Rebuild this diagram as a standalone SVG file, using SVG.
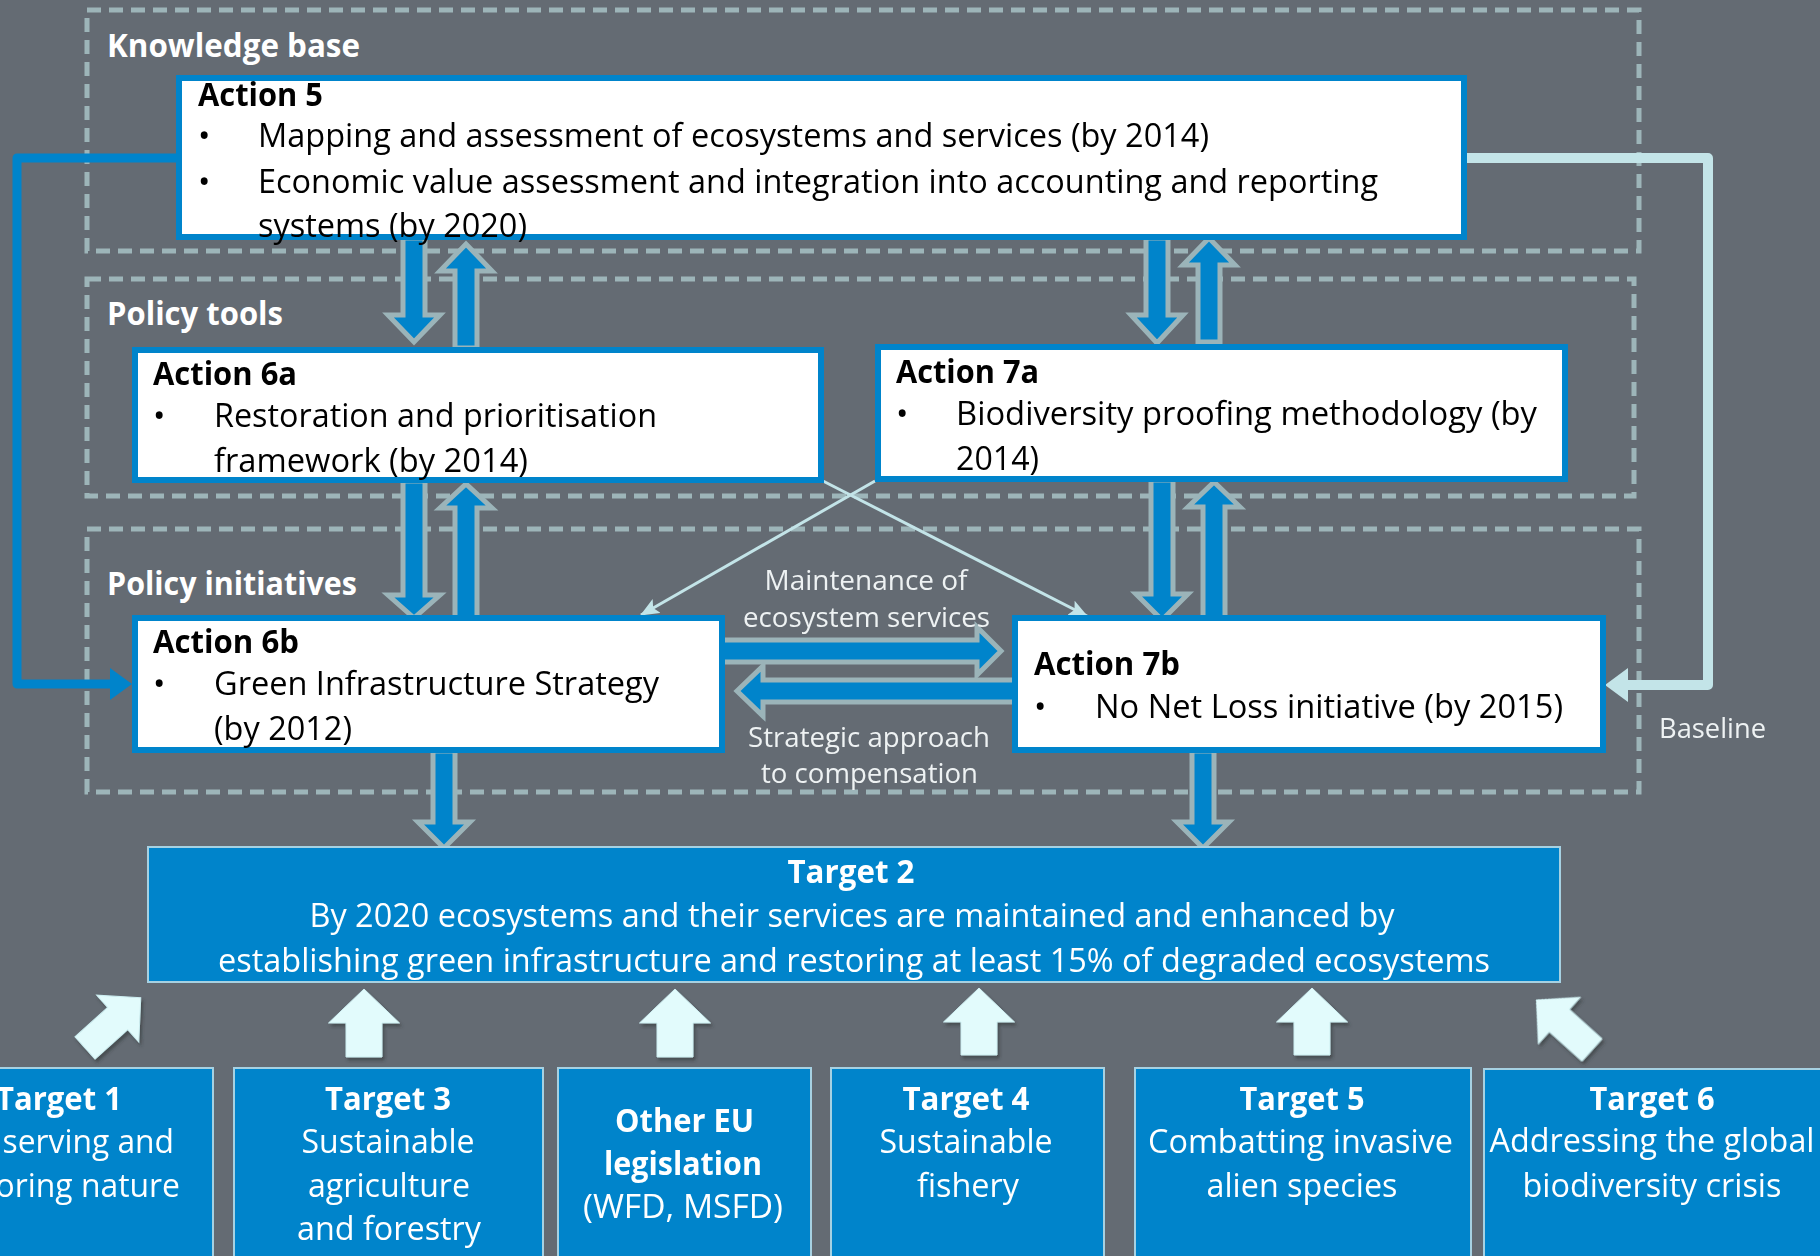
<svg xmlns="http://www.w3.org/2000/svg" width="1820" height="1256" viewBox="0 0 1820 1256">
<defs>
<style>
.bg{fill:#646b73}
.zone{fill:none;stroke:#9db5b9;stroke-width:5;stroke-dasharray:14 8}
.f{font-family:"Open Sans","Liberation Sans",sans-serif}
.zl{font-size:33px;font-weight:700;fill:#ffffff}
.act{fill:#ffffff;stroke:#0084cb;stroke-width:6}
.t{font-size:33px;fill:#000000}
.b{font-weight:700}
.tgt{fill:#0084cb;stroke:#a6d1e2;stroke-width:2}
.w{font-size:33px;fill:#ffffff}
.m{text-anchor:middle}
.lbl{font-size:28px;fill:#eef2f3}
.blk{fill:#0084cb;stroke:#9bb4b9;stroke-width:5}
.thin{fill:none;stroke:#c3e4e8;stroke-width:3}
.up{fill:#e2fbfc;stroke:#cdeef1;stroke-width:1}
</style>
<filter id="sh" x="-30%" y="-30%" width="160%" height="160%">
<feDropShadow dx="2" dy="3" stdDeviation="1.5" flood-color="#2f3438" flood-opacity="0.55"/>
</filter>
<marker id="ah" markerUnits="userSpaceOnUse" markerWidth="19" markerHeight="16" viewBox="0 0 19 16" refX="18" refY="8" orient="auto">
<path d="M0,0 L19,8 L0,16 L4,8 Z" fill="#c3e4e8"/>
</marker>
<marker id="bh" markerUnits="userSpaceOnUse" markerWidth="22" markerHeight="32" viewBox="0 0 22 32" refX="0" refY="16" orient="auto">
<path d="M0,0 L22,16 L0,32 Z" fill="#0084cb"/>
</marker>
<marker id="lh" markerUnits="userSpaceOnUse" markerWidth="23" markerHeight="34" viewBox="0 0 23 34" refX="0" refY="17" orient="auto">
<path d="M0,0 L23,17 L0,34 Z" fill="#c3e4e8"/>
</marker>
</defs>

<rect class="bg" x="0" y="0" width="1820" height="1256"/>

<g id="zone-knowledge-base">
<rect class="zone" x="87" y="10" width="1552" height="241"/>
<text class="f zl" x="107" y="57" textLength="253" lengthAdjust="spacingAndGlyphs">Knowledge base</text>
</g>
<g id="zone-policy-tools">
<rect class="zone" x="87" y="279" width="1547" height="217"/>
<text class="f zl" x="107" y="325" textLength="176" lengthAdjust="spacingAndGlyphs">Policy tools</text>
</g>
<g id="zone-policy-initiatives">
<rect class="zone" x="87" y="529" width="1552" height="263"/>
<text class="f zl" x="107" y="595" textLength="250" lengthAdjust="spacingAndGlyphs">Policy initiatives</text>
</g>

<g id="connectors">
<path class="blk" d="M403,238 H425 V315 H440 L414,342 L388,315 H403 Z"/>
<path class="blk" d="M455,348 H477 V271 H492 L466,244 L440,271 H455 Z"/>
<path class="blk" d="M1146,238 H1168 V315 H1183 L1157,343 L1131,315 H1146 Z"/>
<path class="blk" d="M1198,342 H1220 V265 H1235 L1209,238 L1183,265 H1198 Z"/>
<path class="blk" d="M403,481 H425 V595 H440 L414,618 L388,595 H403 Z"/>
<path class="blk" d="M455,618 H477 V508 H492 L466,484 L440,508 H455 Z"/>
<path class="blk" d="M1151,480 H1173 V594 H1188 L1162,620 L1136,594 H1151 Z"/>
<path class="blk" d="M1203,618 H1225 V507 H1240 L1214,482 L1188,507 H1203 Z"/>
<path class="blk" d="M433,751 H455 V822 H470 L444,848 L418,822 H433 Z"/>
<path class="blk" d="M1192,751 H1214 V822 H1229 L1203,848 L1177,822 H1192 Z"/>
<path class="blk" d="M722,640 H977 V627 L1001,651 L977,675 V662 H722 Z"/>
<path class="blk" d="M1015,680 H763 V666 L737,691 L763,716 V702 H1015 Z"/>
<path class="thin" d="M875,481 L641,615" marker-end="url(#ah)"/>
<path class="thin" d="M823,481 L1087,616" marker-end="url(#ah)"/>
<path d="M176,158 H17 V684 H110" fill="none" stroke="#0084cb" stroke-width="9" stroke-linejoin="round" marker-end="url(#bh)"/>
<path d="M1467,158 H1708 V685 H1628" fill="none" stroke="#c3e4e8" stroke-width="10" stroke-linejoin="round" marker-end="url(#lh)"/>
<g filter="url(#sh)">
<path class="up" d="M0,-75 L31.5,-44 H15 V0 H-15 V-44 H-31.5 Z" transform="translate(85,1048) rotate(48)"/>
<path class="up" d="M364,989 L399.5,1023 H382 V1057 H346 V1023 H328.5 Z"/>
<path class="up" d="M675,989 L710.5,1023 H693 V1057 H657 V1023 H639.5 Z"/>
<path class="up" d="M979,988 L1014.5,1022 H997 V1055 H961 V1022 H943.5 Z"/>
<path class="up" d="M1312,988 L1347.5,1022 H1330 V1055 H1294 V1022 H1276.5 Z"/>
<path class="up" d="M0,-75 L31.5,-44 H15 V0 H-15 V-44 H-31.5 Z" transform="translate(1592,1050) rotate(-48)"/>
</g>
<text class="f lbl m" x="866" y="590" textLength="203" lengthAdjust="spacingAndGlyphs">Maintenance of</text>
<text class="f lbl m" x="866.5" y="627" textLength="247" lengthAdjust="spacingAndGlyphs">ecosystem services</text>
<text class="f lbl m" x="869" y="747" textLength="242" lengthAdjust="spacingAndGlyphs">Strategic approach</text>
<text class="f lbl m" x="869.5" y="783" textLength="217" lengthAdjust="spacingAndGlyphs">to compensation</text>
<text class="f lbl" x="1659" y="738" textLength="107" lengthAdjust="spacingAndGlyphs">Baseline</text>
</g>

<g id="action5">
<rect class="act" x="179" y="78" width="1285" height="159"/>
<text class="f t b" x="198" y="106" textLength="125" lengthAdjust="spacingAndGlyphs">Action 5</text>
<text class="f t" x="198" y="147">•</text>
<text class="f t" x="258" y="147" textLength="951" lengthAdjust="spacingAndGlyphs">Mapping and assessment of ecosystems and services (by 2014)</text>
<text class="f t" x="198" y="193">•</text>
<text class="f t" x="258" y="193" textLength="1120" lengthAdjust="spacingAndGlyphs">Economic value assessment and integration into accounting and reporting</text>
<text class="f t" x="258" y="237" textLength="269" lengthAdjust="spacingAndGlyphs">systems (by 2020)</text>
</g>

<g id="action6a">
<rect class="act" x="135" y="350" width="686" height="130"/>
<text class="f t b" x="153" y="385" textLength="144" lengthAdjust="spacingAndGlyphs">Action 6a</text>
<text class="f t" x="153" y="427">•</text>
<text class="f t" x="214" y="427" textLength="443" lengthAdjust="spacingAndGlyphs">Restoration and prioritisation</text>
<text class="f t" x="214" y="472" textLength="314" lengthAdjust="spacingAndGlyphs">framework (by 2014)</text>
</g>

<g id="action7a">
<rect class="act" x="878" y="347" width="687" height="132"/>
<text class="f t b" x="896" y="383" textLength="143" lengthAdjust="spacingAndGlyphs">Action 7a</text>
<text class="f t" x="896" y="425">•</text>
<text class="f t" x="956" y="425" textLength="581" lengthAdjust="spacingAndGlyphs">Biodiversity proofing methodology (by</text>
<text class="f t" x="956" y="470" textLength="83" lengthAdjust="spacingAndGlyphs">2014)</text>
</g>

<g id="action6b">
<rect class="act" x="135" y="618" width="587" height="132"/>
<text class="f t b" x="153" y="653" textLength="146" lengthAdjust="spacingAndGlyphs">Action 6b</text>
<text class="f t" x="153" y="695">•</text>
<text class="f t" x="214" y="695" textLength="445" lengthAdjust="spacingAndGlyphs">Green Infrastructure Strategy</text>
<text class="f t" x="214" y="740" textLength="138" lengthAdjust="spacingAndGlyphs">(by 2012)</text>
</g>

<g id="action7b">
<rect class="act" x="1015" y="618" width="588" height="132"/>
<text class="f t b" x="1034" y="675" textLength="146" lengthAdjust="spacingAndGlyphs">Action 7b</text>
<text class="f t" x="1034" y="718">•</text>
<text class="f t" x="1095" y="718" textLength="468" lengthAdjust="spacingAndGlyphs">No Net Loss initiative (by 2015)</text>
</g>

<g id="target2">
<rect class="tgt" x="148" y="847" width="1412" height="135"/>
<text class="f w b m" x="851" y="883" textLength="127" lengthAdjust="spacingAndGlyphs">Target 2</text>
<text class="f w m" x="852" y="927" textLength="1085" lengthAdjust="spacingAndGlyphs">By 2020 ecosystems and their services are maintained and enhanced by</text>
<text class="f w m" x="854" y="972" textLength="1272" lengthAdjust="spacingAndGlyphs">establishing green infrastructure and restoring at least 15% of degraded ecosystems</text>
</g>

<g id="target1">
<rect class="tgt" x="-95" y="1068" width="308" height="200"/>
<text class="f w b m" x="59" y="1110" textLength="126" lengthAdjust="spacingAndGlyphs">Target 1</text>
<text class="f w m" x="59" y="1153" textLength="230" lengthAdjust="spacingAndGlyphs">Conserving and</text>
<text class="f w m" x="59" y="1197" textLength="242" lengthAdjust="spacingAndGlyphs">restoring nature</text>
</g>

<g id="target3">
<rect class="tgt" x="234" y="1068" width="309" height="200"/>
<text class="f w b m" x="388" y="1110" textLength="126" lengthAdjust="spacingAndGlyphs">Target 3</text>
<text class="f w m" x="388" y="1153" textLength="173" lengthAdjust="spacingAndGlyphs">Sustainable</text>
<text class="f w m" x="389" y="1197" textLength="162" lengthAdjust="spacingAndGlyphs">agriculture</text>
<text class="f w m" x="389" y="1240" textLength="184" lengthAdjust="spacingAndGlyphs">and forestry</text>
</g>

<g id="other-eu-legislation">
<rect class="tgt" x="558" y="1068" width="253" height="200"/>
<text class="f w b m" x="684.5" y="1132" textLength="139" lengthAdjust="spacingAndGlyphs">Other EU</text>
<text class="f w b m" x="683" y="1175" textLength="158" lengthAdjust="spacingAndGlyphs">legislation</text>
<text class="f w m" x="683" y="1218" textLength="200" lengthAdjust="spacingAndGlyphs">(WFD, MSFD)</text>
</g>

<g id="target4">
<rect class="tgt" x="831" y="1068" width="273" height="200"/>
<text class="f w b m" x="966" y="1110" textLength="127" lengthAdjust="spacingAndGlyphs">Target 4</text>
<text class="f w m" x="966" y="1153" textLength="173" lengthAdjust="spacingAndGlyphs">Sustainable</text>
<text class="f w m" x="968" y="1197" textLength="102" lengthAdjust="spacingAndGlyphs">fishery</text>
</g>

<g id="target5">
<rect class="tgt" x="1135" y="1068" width="336" height="200"/>
<text class="f w b m" x="1302" y="1110" textLength="125" lengthAdjust="spacingAndGlyphs">Target 5</text>
<text class="f w m" x="1300.5" y="1153" textLength="305" lengthAdjust="spacingAndGlyphs">Combatting invasive</text>
<text class="f w m" x="1302" y="1197" textLength="191" lengthAdjust="spacingAndGlyphs">alien species</text>
</g>

<g id="target6">
<rect class="tgt" x="1484" y="1069" width="346" height="200"/>
<text class="f w b m" x="1652" y="1110" textLength="125" lengthAdjust="spacingAndGlyphs">Target 6</text>
<text class="f w m" x="1652" y="1152" textLength="325" lengthAdjust="spacingAndGlyphs">Addressing the global</text>
<text class="f w m" x="1652" y="1197" textLength="259" lengthAdjust="spacingAndGlyphs">biodiversity crisis</text>
</g>
</svg>
